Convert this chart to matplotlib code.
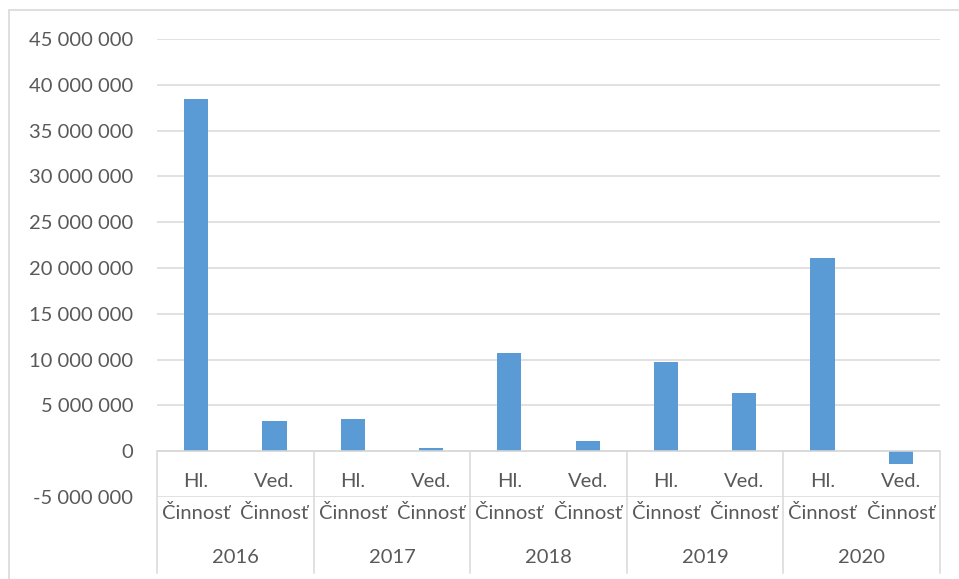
import matplotlib
matplotlib.use("Agg")
import matplotlib.pyplot as plt
from matplotlib.patches import Rectangle
from matplotlib.ticker import FuncFormatter

# data
years = ["2016", "2017", "2018", "2019", "2020"]
activity_top = ["Hl.", "Ved."]
activity_bottom = ["Činnosť", "Činnosť"]
values = [38_450_000, 3_300_000,
          3_500_000, 360_000,
          10_700_000, 1_100_000,
          9_750_000, 6_400_000,
          21_100_000, -1_450_000]

plt.rcParams["font.family"] = ["Lato", "DejaVu Sans"]
text_c = "#595959"
grid_c = "#d9d9d9"
fs = 14.5

W, H = 959, 579
fig = plt.figure(figsize=(W / 100, H / 100), dpi=100)

# outer chart frame (Excel-style)
fig.patches.append(Rectangle((9 / W, -0.05), 1.0, (H - 10) / H + 0.05,
                             transform=fig.transFigure, fill=False,
                             edgecolor=grid_c, linewidth=1.2))

ax = fig.add_axes([157 / W, (H - 497) / H, (940 - 157) / W, (497 - 39) / H])

n = len(values)
x = list(range(n))
ax.bar(x, values, width=0.31, color="#5B9BD5", zorder=3)

ax.set_xlim(-0.5, n - 0.5)
ax.set_ylim(-5_000_000, 45_000_000)
ax.set_yticks(range(-5_000_000, 45_000_001, 5_000_000))
ax.yaxis.set_major_formatter(FuncFormatter(lambda v, p: f"{int(v):,}".replace(",", " ")))
ax.tick_params(axis="y", length=0, pad=17, labelsize=fs, labelcolor=text_c)
ax.set_xticks([])
ax.grid(axis="y", color=grid_c, linewidth=1.1, zorder=0)
for s in ax.spines.values():
    s.set_visible(False)

# category axis: zero line, separators, two-level labels
ax.axhline(0, color=grid_c, linewidth=1.1, zorder=4)
tr = ax.get_xaxis_transform()
y0 = 0.1
y_end = -0.166
for b in range(len(years) + 1):
    xb = b * 2 - 0.5
    ax.plot([xb, xb], [y0, y_end], transform=tr, color=grid_c,
            linewidth=1.1, clip_on=False)

for i in range(n):
    ax.text(i, 0.033, activity_top[i % 2], transform=tr, ha="center", va="center",
            fontsize=fs, color=text_c)
    ax.text(i, -0.035, activity_bottom[i % 2], transform=tr, ha="center", va="center",
            fontsize=fs, color=text_c)
for j, yr in enumerate(years):
    ax.text(j * 2 + 0.5, -0.133, yr, transform=tr, ha="center", va="center",
            fontsize=fs, color=text_c)

fig.savefig("out.png", dpi=100)
